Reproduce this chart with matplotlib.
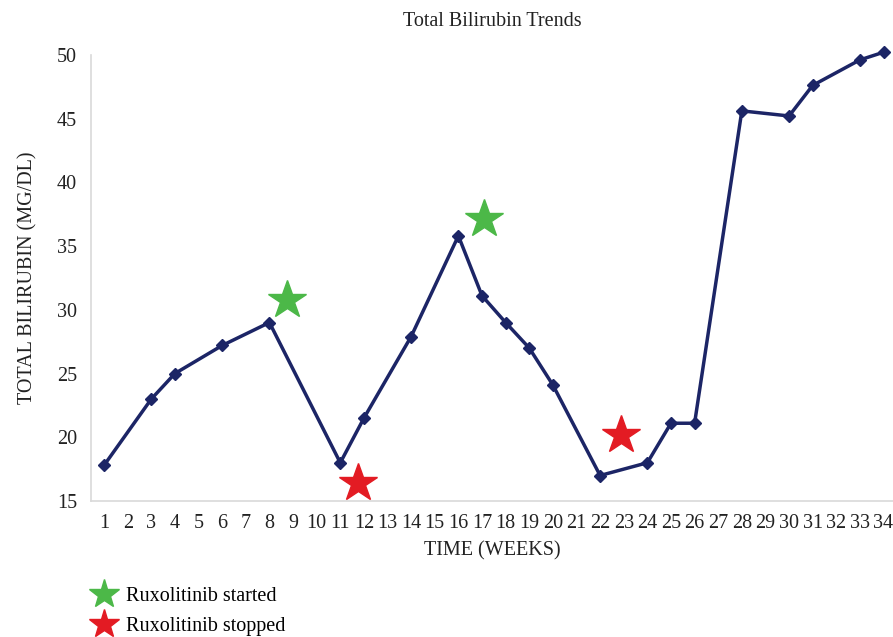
import numpy as np
import matplotlib.pyplot as plt
from matplotlib.lines import Line2D

plt.rcParams["font.family"] = ["Liberation Serif", "DejaVu Serif"]

# --- data ---
weeks = [1, 3, 4, 6, 8, 11, 12, 14, 16, 17, 18, 19, 20, 22, 24, 25, 26, 28, 30, 31, 33, 34]
bilirubin = [17.8, 23.0, 25.0, 27.2, 29.0, 18.0, 21.5, 27.9, 35.8, 31.1, 29.0, 27.0,
             24.1, 17.0, 18.0, 21.1, 21.1, 45.6, 45.2, 47.6, 49.6, 50.2]

started_x = [8.75, 17.1]
started_y = [30.8, 37.1]
stopped_x = [11.75, 22.9]
stopped_y = [16.4, 20.2]

navy = "#1c2566"
green = "#4cb848"
red = "#e31b23"

fig = plt.figure(figsize=(8.93, 6.37), dpi=100)
ax = fig.add_axes([0.102, 0.2135, 0.898, 0.7005])

ax.plot(weeks, bilirubin, color=navy, lw=2.5, marker="D", ms=6.5, zorder=3, clip_on=False)
ax.plot(started_x, started_y, ls="none", marker="*", ms=29, color=green, zorder=4)
ax.plot(stopped_x, stopped_y, ls="none", marker="*", ms=29, color=red, zorder=4)

ax.set_xlim(0.45, 34.4)
ax.set_ylim(15, 50)
ax.set_xticks(range(1, 35))
ax.set_yticks(range(15, 51, 5))
ax.tick_params(length=0, labelsize=14.5, colors="#222222")
ax.tick_params(axis="x", pad=9)
ax.tick_params(axis="y", pad=10)
for s in ["top", "right"]:
    ax.spines[s].set_visible(False)
for s in ["left", "bottom"]:
    ax.spines[s].set_color("#d9d9d9")
    ax.spines[s].set_linewidth(1.2)

ax.set_title("Total Bilirubin Trends", fontsize=14.5, color="#222222", pad=21)
ax.set_xlabel("TIME (WEEKS)", fontsize=14.5, color="#222222", labelpad=6)
ax.set_ylabel("TOTAL BILIRUBIN (MG/DL)", fontsize=14.5, color="#222222", labelpad=14)

handles = [Line2D([], [], ls="none", marker="*", ms=22, color=green),
           Line2D([], [], ls="none", marker="*", ms=22, color=red)]
fig.legend(handles, ["Ruxolitinib started", "Ruxolitinib stopped"],
           loc="upper left", bbox_to_anchor=(0.103, 0.078), frameon=False,
           fontsize=14.5, handletextpad=0.5, labelspacing=0.5, handlelength=1.2,
           borderaxespad=0, borderpad=0)

fig.savefig("out.png", dpi=100)
